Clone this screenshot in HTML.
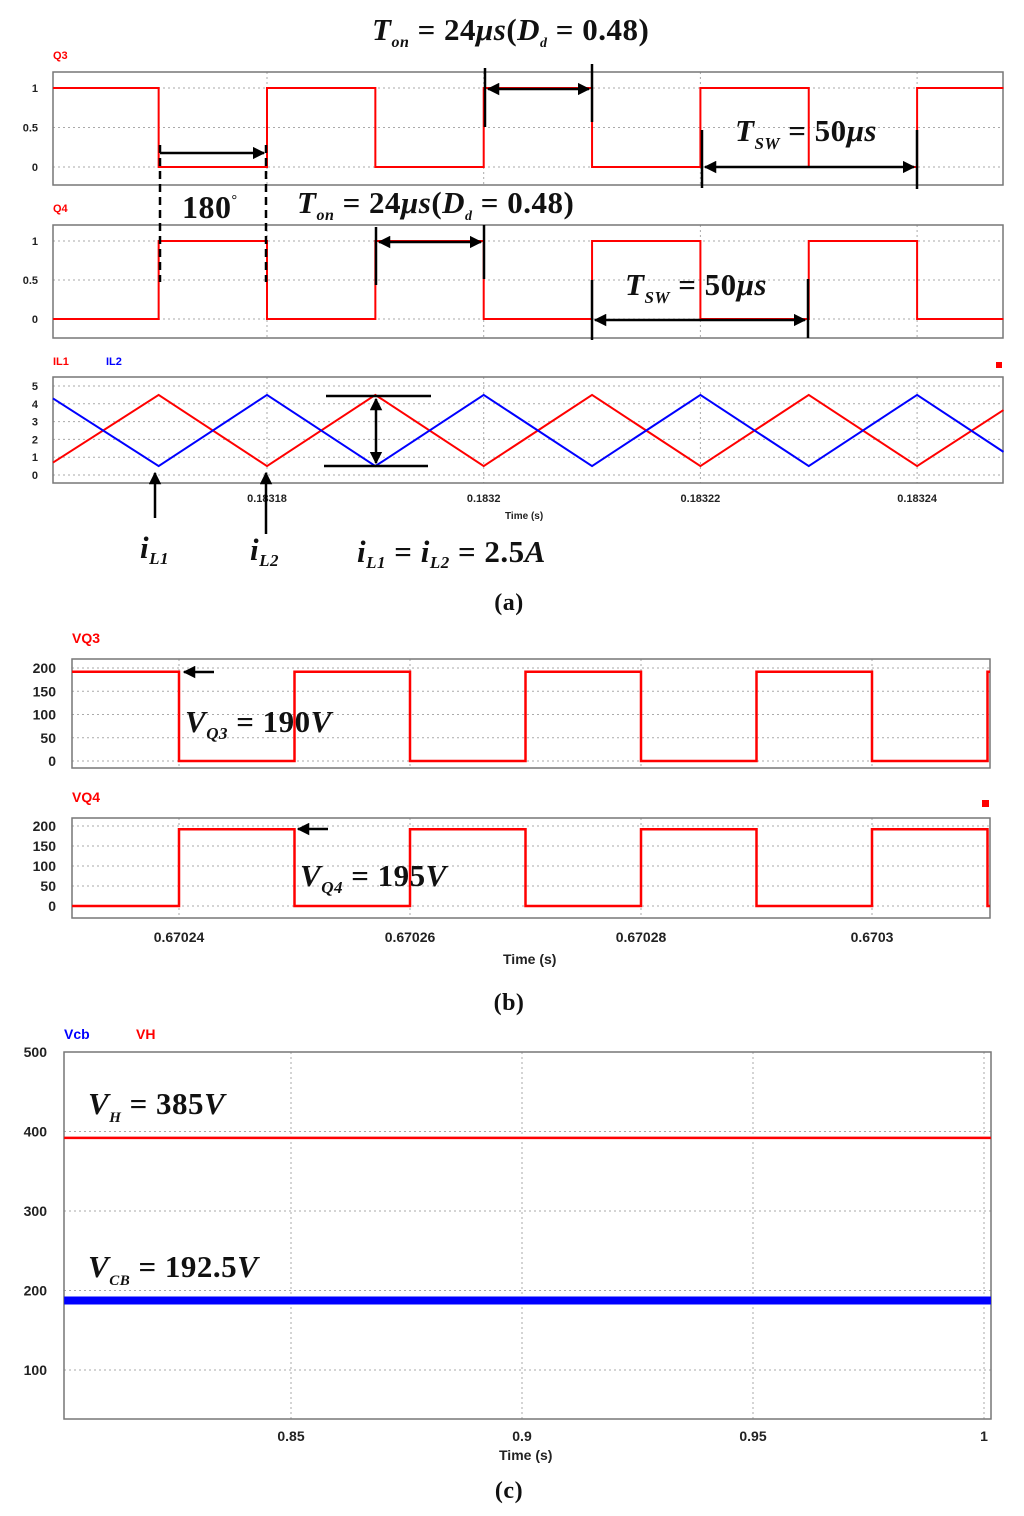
<!DOCTYPE html>
<html><head><meta charset="utf-8"><style>
html,body{margin:0;padding:0;background:#fff}
svg{display:block}
.tk{font-family:"Liberation Sans",Arial,sans-serif;font-weight:bold;fill:#222}
.m{font-family:"Liberation Serif",serif;fill:#111;font-weight:bold;letter-spacing:0.5px}
.it{font-style:italic}
</style></head><body>
<svg id="fig" width="1024" height="1516" viewBox="0 0 1024 1516" xmlns="http://www.w3.org/2000/svg">
<defs>
<marker id="ah" viewBox="0 0 10 10" refX="9" refY="5" markerWidth="5" markerHeight="5" orient="auto-start-reverse"><path d="M0,0 L10,5 L0,10 z" fill="#000"/></marker>
</defs>
<g id="plots"></g>
<g id="ann">
<text class="m" x="372" y="40" font-size="31"><tspan class="it">T</tspan><tspan class="it" font-size="16" dy="7">on</tspan><tspan dy="-7"> = 24</tspan><tspan class="it">μs</tspan>(<tspan class="it">D</tspan><tspan class="it" font-size="14" dy="7">d</tspan><tspan dy="-7"> = 0.48)</tspan></text>
<text class="m" x="182" y="218" font-size="32">180<tspan font-size="14" dy="-14">°</tspan></text>
<text class="m" x="297" y="213" font-size="31"><tspan class="it">T</tspan><tspan class="it" font-size="16" dy="7">on</tspan><tspan dy="-7"> = 24</tspan><tspan class="it">μs</tspan>(<tspan class="it">D</tspan><tspan class="it" font-size="14" dy="7">d</tspan><tspan dy="-7"> = 0.48)</tspan></text>
<text class="m" x="735" y="141" font-size="31"><tspan class="it">T</tspan><tspan class="it" font-size="17" dy="8">SW</tspan><tspan dy="-8"> = 50</tspan><tspan class="it">μs</tspan></text>
<text class="m" x="625" y="295" font-size="31"><tspan class="it">T</tspan><tspan class="it" font-size="17" dy="8">SW</tspan><tspan dy="-8"> = 50</tspan><tspan class="it">μs</tspan></text>
<g stroke="#000" stroke-width="2.5" fill="none">
<line x1="485" y1="68" x2="485" y2="127"/><line x1="592" y1="64" x2="592" y2="122"/>
<line x1="488" y1="89" x2="589" y2="89" marker-start="url(#ah)" marker-end="url(#ah)"/>
<line x1="160" y1="153" x2="264" y2="153" marker-end="url(#ah)"/>
<line x1="160" y1="145" x2="160" y2="282" stroke-dasharray="8,5"/><line x1="266" y1="145" x2="266" y2="282" stroke-dasharray="8,5"/>
<line x1="376" y1="227" x2="376" y2="285"/><line x1="484" y1="225" x2="484" y2="279"/>
<line x1="379" y1="242" x2="481" y2="242" marker-start="url(#ah)" marker-end="url(#ah)"/>
<line x1="702" y1="130" x2="702" y2="188"/><line x1="917" y1="130" x2="917" y2="189"/>
<line x1="705" y1="167" x2="914" y2="167" marker-start="url(#ah)" marker-end="url(#ah)"/>
<line x1="592" y1="280" x2="592" y2="340"/><line x1="808" y1="279" x2="808" y2="338"/>
<line x1="595" y1="320" x2="805" y2="320" marker-start="url(#ah)" marker-end="url(#ah)"/>
<line x1="326" y1="396" x2="431" y2="396"/><line x1="324" y1="466" x2="428" y2="466"/>
<line x1="376" y1="399" x2="376" y2="463" marker-start="url(#ah)" marker-end="url(#ah)"/>
<line x1="155" y1="518" x2="155" y2="473" marker-end="url(#ah)"/>
<line x1="266" y1="534" x2="266" y2="473" marker-end="url(#ah)"/>
<line x1="214" y1="672" x2="184" y2="672" marker-end="url(#ah)"/>
<line x1="328" y1="829" x2="298" y2="829" marker-end="url(#ah)"/>
</g>
<text class="m it" x="140" y="558" font-size="31">i<tspan font-size="17" dy="6">L1</tspan></text>
<text class="m it" x="250" y="560" font-size="31">i<tspan font-size="17" dy="6">L2</tspan></text>
<text class="m" x="357" y="562" font-size="31"><tspan class="it">i</tspan><tspan class="it" font-size="17" dy="6">L1</tspan><tspan dy="-6"> = </tspan><tspan class="it">i</tspan><tspan class="it" font-size="17" dy="6">L2</tspan><tspan dy="-6"> = 2.5</tspan><tspan class="it">A</tspan></text>
<text class="m" x="509" y="610" font-size="24" text-anchor="middle" font-weight="normal">(a)</text>
<text class="m" x="185" y="732" font-size="31"><tspan class="it">V</tspan><tspan class="it" font-size="17" dy="7">Q3</tspan><tspan dy="-7"> = 190</tspan><tspan class="it">V</tspan></text>
<text class="m" x="300" y="886" font-size="31"><tspan class="it">V</tspan><tspan class="it" font-size="17" dy="7">Q4</tspan><tspan dy="-7"> = 195</tspan><tspan class="it">V</tspan></text>
<text class="m" x="509" y="1010" font-size="24" text-anchor="middle" font-weight="normal">(b)</text>
<text class="m" x="88" y="1114" font-size="31"><tspan class="it">V</tspan><tspan class="it" font-size="15" dy="8">H</tspan><tspan dy="-8"> = 385</tspan><tspan class="it">V</tspan></text>
<text class="m" x="88" y="1277" font-size="31"><tspan class="it">V</tspan><tspan class="it" font-size="15" dy="8">CB</tspan><tspan dy="-8"> = 192.5</tspan><tspan class="it">V</tspan></text>
<text class="m" x="509" y="1498" font-size="24" text-anchor="middle" font-weight="normal">(c)</text>
<rect x="996" y="362" width="6" height="6" fill="#f00"/><rect x="982" y="800" width="7" height="7" fill="#f00"/>
</g>
</svg>
<script>
// ---- data ----
const aTimes = [0.18316025,0.18317,0.18318,0.18319,0.1832,0.18321,0.18322,0.18323,0.18324,0.18324797];
const q3Levels = [1,0,1,0,1,0,1,0,1,1];
const q4Levels = [0,1,0,1,0,1,0,1,0,0];
const il1Values = [0.7,4.5,0.5,4.5,0.5,4.5,0.5,4.5,0.5,3.65];
const il2Values = [4.3,0.5,4.5,0.5,4.5,0.5,4.5,0.5,4.5,1.3];
const aTickTimes = [0.18318,0.1832,0.18322,0.18324];
const aTickLabels = ["0.18318","0.1832","0.18322","0.18324"];
const qTicks = [0,0.5,1];
const qTickLabels = ["0","0.5","1"];
const ilTicks = [0,1,2,3,4,5];
const bTimes = [0.67023074,0.67024,0.67025,0.67026,0.67027,0.67028,0.67029,0.6703,0.67031,0.67031022];
const vq3Values = [192,0,192,0,192,0,192,0,192,192];
const vq4Values = [0,192,0,192,0,192,0,192,0,0];
const bTickTimes = [0.67024,0.67026,0.67028,0.6703];
const bTickLabels = ["0.67024","0.67026","0.67028","0.6703"];
const vTicks = [0,50,100,150,200];
const cTimes = [0.8009,1.0015];
const vhValues = [392,392];
const vcbValues = [187.5,187.5];
const cTicks = [100,200,300,400,500];
const cTickTimes = [0.85,0.9,0.95,1];
const cTickLabels = ["0.85","0.9","0.95","1"];

const NS="http://www.w3.org/2000/svg";
const root=document.getElementById('plots');
function mk(tag,attrs,parent){const e=document.createElementNS(NS,tag);for(const k in attrs)e.setAttribute(k,attrs[k]);(parent||root).appendChild(e);return e;}
function lin(d0,d1,r0,r1){return v=>r0+(v-d0)*(r1-r0)/(d1-d0);}

function panel(o){
  const g=mk('g',{});
  
  
  const x=lin(o.t0,o.t1,o.x0,o.x1), y=lin(o.v0,o.v1,o.y0,o.y1);
  o.yTicks.forEach((v,i)=>{
    const l=mk('line',{x1:o.bx0,x2:o.bx1,y1:y(v),y2:y(v),stroke:'#aaa','stroke-width':1,'stroke-dasharray':'2,3'},g);
    
    
    const t=mk('text',{x:o.ylx,y:y(v)+o.fs*0.36,'text-anchor':'end','font-size':o.fs,class:'tk'},g);
    
    
    t.textContent=o.yLabels[i];
  });
  o.xTicks.forEach((v,i)=>{
    const l=mk('line',{x1:x(v),x2:x(v),y1:o.by0,y2:o.by1,stroke:'#aaa','stroke-width':1,'stroke-dasharray':'2,3'},g);
    
    
    if(o.xLabels){
      const t=mk('text',{x:x(v),y:o.xly,'text-anchor':'middle','font-size':o.xfs,class:'tk'},g);
      
      
      t.textContent=o.xLabels[i];
    }
  });
  const b=mk('rect',{x:o.bx0,y:o.by0,width:o.bx1-o.bx0,height:o.by1-o.by0,fill:'none',stroke:'#777','stroke-width':1.5},g);
  
  
  o.series.forEach(s=>{
    let pts=[];
    s.t.forEach((tv,i)=>{
      if(s.step&&i>0)pts.push(x(tv)+','+y(s.v[i-1]));
      pts.push(x(tv)+','+y(s.v[i]));
    });
    const p=mk('polyline',{points:pts.join(' '),fill:'none',stroke:s.c,'stroke-width':s.w||2},g);
    
    
  });
  (o.labels||[]).forEach(L=>{
    const t=mk('text',{x:L.x,y:L.y,'font-size':L.fs,class:'tk',style:'fill:'+L.c},g);
    
    
    t.textContent=L.s;
  });
}
panel({name:'q3-panel',t0:0.18318,t1:0.1832,x0:267,x1:483.7,v0:0,v1:1,y0:167,y1:88,bx0:53,bx1:1003,by0:72,by1:185,
 yTicks:qTicks,yLabels:qTickLabels,ylx:38,fs:11,xTicks:aTickTimes,
 series:[{name:'q3-series',t:aTimes,v:q3Levels,c:'#f00',step:true}],
 labels:[{name:'q3-label',s:'Q3',x:53,y:59,fs:11,c:'#f00'}]});
panel({name:'q4-panel',t0:0.18318,t1:0.1832,x0:267,x1:483.7,v0:0,v1:1,y0:319,y1:241,bx0:53,bx1:1003,by0:225,by1:338,
 yTicks:qTicks,yLabels:qTickLabels,ylx:38,fs:11,xTicks:aTickTimes,
 series:[{name:'q4-series',t:aTimes,v:q4Levels,c:'#f00',step:true}],
 labels:[{name:'q4-label',s:'Q4',x:53,y:212,fs:11,c:'#f00'}]});
panel({name:'il-panel',t0:0.18318,t1:0.1832,x0:267,x1:483.7,v0:0,v1:5,y0:475,y1:386,bx0:53,bx1:1003,by0:377,by1:483,
 yTicks:ilTicks,yLabels:ilTicks.map(String),ylx:38,fs:11,xTicks:aTickTimes,xLabels:aTickLabels,xly:502,xfs:11,
 series:[{name:'il1-series',t:aTimes,v:il1Values,c:'#f00'},{name:'il2-series',t:aTimes,v:il2Values,c:'#00f'}],
 labels:[{name:'il1-legend',s:'IL1',x:53,y:365,fs:11,c:'#f00'},{name:'il2-legend',s:'IL2',x:106,y:365,fs:11,c:'#00f'},{name:'x-axis-title-a',s:'Time (s)',x:505,y:519,fs:10,c:'#222'}]});
panel({name:'vq3-panel',t0:0.67024,t1:0.67026,x0:179,x1:410,v0:0,v1:200,y0:761,y1:668,bx0:72,bx1:990,by0:659,by1:768,
 yTicks:vTicks,yLabels:vTicks.map(String),ylx:56,fs:14,xTicks:bTickTimes,
 series:[{name:'vq3-series',t:bTimes,v:vq3Values,c:'#f00',step:true,w:2.5}],
 labels:[{name:'vq3-label',s:'VQ3',x:72,y:643,fs:14,c:'#f00'}]});
panel({name:'vq4-panel',t0:0.67024,t1:0.67026,x0:179,x1:410,v0:0,v1:200,y0:906,y1:826,bx0:72,bx1:990,by0:818,by1:918,
 yTicks:vTicks,yLabels:vTicks.map(String),ylx:56,fs:14,xTicks:bTickTimes,xLabels:bTickLabels,xly:942,xfs:14,
 series:[{name:'vq4-series',t:bTimes,v:vq4Values,c:'#f00',step:true,w:2.5}],
 labels:[{name:'vq4-label',s:'VQ4',x:72,y:802,fs:14,c:'#f00'},{name:'x-axis-title-b',s:'Time (s)',x:503,y:964,fs:14,c:'#222'}]});
panel({name:'dc-panel',t0:0.85,t1:0.9,x0:291,x1:522,v0:100,v1:500,y0:1370,y1:1052,bx0:64,bx1:991,by0:1052,by1:1419,
 yTicks:cTicks,yLabels:cTicks.map(String),ylx:47,fs:14,xTicks:cTickTimes,xLabels:cTickLabels,xly:1441,xfs:14,
 series:[{name:'vh-series',t:cTimes,v:vhValues,c:'#f00',w:2.5},{name:'vcb-series',t:cTimes,v:vcbValues,c:'#00f',w:8}],
 labels:[{name:'vcb-legend',s:'Vcb',x:64,y:1039,fs:14,c:'#00f'},{name:'vh-legend',s:'VH',x:136,y:1039,fs:14,c:'#f00'},{name:'x-axis-title-c',s:'Time (s)',x:499,y:1460,fs:14,c:'#222'}]});
</script>
</body></html>
